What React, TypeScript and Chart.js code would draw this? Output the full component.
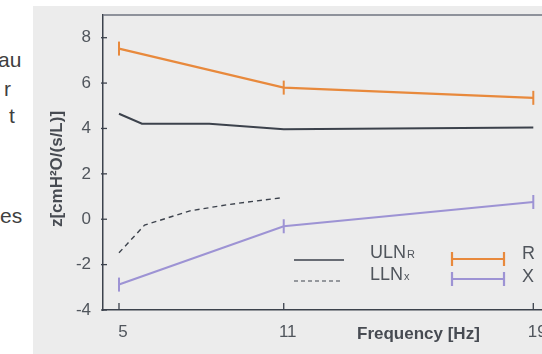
import React, { useEffect, useRef } from "react";
import { Chart, registerables, LinearScale } from "chart.js";

Chart.register(...registerables);

// ---- data ----
const frequencies = [5, 11, 19];
const xTickValues = [5, 11, 19];
const yTickValues = [-4, -2, 0, 2, 4, 6, 8];
const rValues = [7.52, 5.8, 5.35];
const xValues = [-2.88, -0.31, 0.76];
const ulnFreq = [5, 5.9, 8.4, 11, 19];
const ulnValues = [4.65, 4.21, 4.21, 3.96, 4.04];
const llnFreq = [5, 6, 7.7, 9.1, 11];
const llnValues = [-1.48, -0.26, 0.37, 0.65, 0.96];
const sideText = ["au", "r", "t", "es"];

const EXP = 1.2;
class PowScale extends LinearScale {
  static id = "pow";
  static defaults = LinearScale.defaults;
  getPixelForValue(value: any) {
    if (value === null || value === undefined || isNaN(value)) return NaN;
    const t0 = Math.pow(this.min, EXP);
    const t1 = Math.pow(this.max, EXP);
    return this.getPixelForDecimal((Math.pow(value, EXP) - t0) / (t1 - t0));
  }
  getValueForPixel(pixel: number) {
    const d = this.getDecimalForPixel(pixel);
    const t0 = Math.pow(this.min, EXP);
    const t1 = Math.pow(this.max, EXP);
    return Math.pow(t0 + d * (t1 - t0), 1 / EXP);
  }
}
Chart.register(PowScale as any);

const ORANGE = "#e8893c";
const PURPLE = "#9d93d4";
const DARK = "#3c424c";
const TEXT = "#50555c";
const FONT = "'Liberation Sans', Arial, sans-serif";

const decorPlugin = {
  id: "decor",
  afterDraw(chart: any) {
    const ctx = chart.ctx;
    const { left, right, top, bottom } = chart.chartArea;
    const xs = chart.scales.x;
    const ys = chart.scales.y;
    ctx.save();
    // top border
    ctx.strokeStyle = "#6f7581";
    ctx.lineWidth = 1.5;
    ctx.beginPath();
    ctx.moveTo(left, top);
    ctx.lineTo(right + 20, top);
    ctx.stroke();
    // inward ticks
    ctx.strokeStyle = DARK;
    ctx.lineWidth = 1.3;
    xTickValues.forEach((v) => {
      const px = xs.getPixelForValue(v);
      ctx.beginPath();
      ctx.moveTo(px, bottom);
      ctx.lineTo(px, bottom - 7);
      ctx.stroke();
    });
    yTickValues.forEach((v) => {
      const py = ys.getPixelForValue(v);
      ctx.beginPath();
      ctx.moveTo(left - 2, py);
      ctx.lineTo(left + 4, py);
      ctx.stroke();
    });
    // y title
    ctx.fillStyle = "#474b52";
    ctx.font = `bold 17px ${FONT}`;
    ctx.save();
    ctx.translate(24, 163);
    ctx.rotate(-Math.PI / 2);
    ctx.textAlign = "center";
    ctx.textBaseline = "middle";
    ctx.fillText("z[cmH²O/(s/L)]", 0, 0);
    ctx.restore();
    // x title
    ctx.textAlign = "left";
    ctx.textBaseline = "alphabetic";
    ctx.fillText("Frequency [Hz]", 324, 333);

    // legend
    ctx.strokeStyle = DARK;
    ctx.lineWidth = 1.5;
    ctx.beginPath();
    ctx.moveTo(261, 254);
    ctx.lineTo(311, 254);
    ctx.stroke();
    ctx.lineWidth = 1.2;
    ctx.setLineDash([4, 3]);
    ctx.beginPath();
    ctx.moveTo(261, 275);
    ctx.lineTo(310, 275);
    ctx.stroke();
    ctx.setLineDash([]);

    ctx.fillStyle = TEXT;
    ctx.font = `18px ${FONT}`;
    ctx.fillText("ULN", 337, 252);
    let w = ctx.measureText("ULN").width;
    ctx.font = `11px ${FONT}`;
    ctx.fillText("R", 337 + w + 1, 252);
    ctx.font = `18px ${FONT}`;
    ctx.fillText("LLN", 337, 274);
    w = ctx.measureText("LLN").width;
    ctx.font = `11px ${FONT}`;
    ctx.fillText("x", 337 + w + 1, 274);

    const bar = (y: number, color: string) => {
      ctx.strokeStyle = color;
      ctx.lineWidth = 2.2;
      ctx.beginPath();
      ctx.moveTo(419, y);
      ctx.lineTo(471, y);
      ctx.moveTo(419, y - 7);
      ctx.lineTo(419, y + 7);
      ctx.moveTo(471, y - 7);
      ctx.lineTo(471, y + 7);
      ctx.stroke();
    };
    bar(253, ORANGE);
    bar(273, PURPLE);
    ctx.fillStyle = TEXT;
    ctx.font = `18px ${FONT}`;
    ctx.fillText("R", 489, 253);
    ctx.fillText("X", 489, 275.5);
    ctx.restore();
  },
};

export default function App() {
  const ref = useRef<HTMLCanvasElement>(null);
  useEffect(() => {
    const canvas = ref.current!;
    const chart = new Chart(canvas, {
      type: "line",
      data: {
        datasets: [
          {
            label: "ULN",
            data: ulnFreq.map((f, i) => ({ x: f, y: ulnValues[i] })),
            borderColor: DARK,
            borderWidth: 2,
            pointRadius: 0,
            tension: 0,
          },
          {
            label: "LLN",
            data: llnFreq.map((f, i) => ({ x: f, y: llnValues[i] })),
            borderColor: DARK,
            borderWidth: 1.4,
            borderDash: [5, 4],
            pointRadius: 0,
            tension: 0,
          },
          {
            label: "R",
            data: frequencies.map((f, i) => ({ x: f, y: rValues[i] })),
            borderColor: ORANGE,
            borderWidth: 2.2,
            pointStyle: "line",
            pointRadius: 7,
            pointRotation: 90,
            pointBorderColor: ORANGE,
            pointBorderWidth: 2,
            tension: 0,
          },
          {
            label: "X",
            data: frequencies.map((f, i) => ({ x: f, y: xValues[i] })),
            borderColor: PURPLE,
            borderWidth: 2.2,
            pointStyle: "line",
            pointRadius: 7,
            pointRotation: 90,
            pointBorderColor: PURPLE,
            pointBorderWidth: 2,
            tension: 0,
          },
        ],
      },
      options: {
        responsive: false,
        animation: false,
        events: [],
        layout: { padding: { top: 9, right: 18, left: 0, bottom: 0 } },
        plugins: { legend: { display: false }, tooltip: { enabled: false } },
        scales: {
          x: {
            type: "pow" as any,
            min: 4.354,
            max: 19.66,
            afterBuildTicks: (s: any) => {
              s.ticks = xTickValues.map((v) => ({ value: v }));
            },
            afterFit: (s: any) => {
              s.height = 44;
              s.paddingLeft = 0;
              s.paddingRight = 0;
            },
            ticks: {
              autoSkip: false,
              maxRotation: 0,
              padding: 12,
              labelOffset: 4,
              color: TEXT,
              font: { family: FONT, size: 17 },
              callback: (v: any) => String(v),
            },
            grid: { drawOnChartArea: false, drawTicks: false },
            border: { display: true, color: DARK, width: 1.5 },
          },
          y: {
            type: "linear",
            min: -4,
            max: 9,
            afterBuildTicks: (s: any) => {
              s.ticks = yTickValues.map((v) => ({ value: v }));
            },
            afterFit: (s: any) => {
              s.width = 70;
              s.paddingTop = 0;
              s.paddingBottom = 0;
            },
            ticks: {
              padding: 12,
              color: TEXT,
              font: { family: FONT, size: 17 },
              callback: (v: any) => String(v),
            },
            grid: { drawOnChartArea: false, drawTicks: false },
            border: { display: true, color: DARK, width: 1.5 },
          },
        },
      },
      plugins: [decorPlugin],
    });
    return () => chart.destroy();
  }, []);

  const sidePos = [
    { left: -2, top: 49 },
    { left: 4, top: 78 },
    { left: 9, top: 105 },
    { left: 0, top: 205 },
  ];

  return (
    <div
      style={{
        position: "fixed",
        left: 0,
        top: 0,
        width: 542,
        height: 354,
        overflow: "hidden",
        background: "#ffffff",
      }}
    >
      {sideText.map((t, i) => (
        <div
          key={i}
          style={{
            position: "absolute",
            left: sidePos[i].left,
            top: sidePos[i].top,
            font: `21px ${FONT}`,
            lineHeight: "21px",
            color: "#3f3f3f",
            whiteSpace: "nowrap",
          }}
        >
          {t}
        </div>
      ))}
      <div
        style={{
          position: "absolute",
          left: 33,
          top: 6,
          width: 540,
          height: 360,
          background: "#ececec",
        }}
      >
        <canvas ref={ref} width={540} height={348} style={{ display: "block" }} />
      </div>
    </div>
  );
}
